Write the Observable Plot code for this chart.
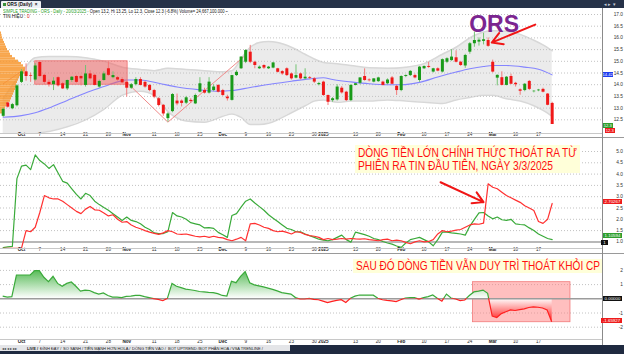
<!DOCTYPE html>
<html><head><meta charset="utf-8">
<script src="https://cdn.jsdelivr.net/npm/d3@7"></script>
<script src="https://cdn.jsdelivr.net/npm/@observablehq/plot@0.6"></script>
<style>
html,body{margin:0;padding:0;background:#fff;}
#root{position:relative;width:624px;height:354px;overflow:hidden;background:#fff;font-family:"Liberation Sans",Arial,sans-serif;}
.a{position:absolute;white-space:nowrap;}
</style></head><body><div id="root"></div>
<script>
// ---------------- DATA ----------------
// trading-day index 0 = 25/09/2024 ... 120 = 20/03/2025
const tickDays   = [4,8,13,18,23,27,33,38,43,48,53,58,63,68,70,77,82,87,92,97,102,107,112,117];
const tickLabels = ["Oct","7","14","21","28","Nov","11","18","25","Dec","9","16","23","30","2025","13","20","Feb","10","17","24","Mar","10","17"];
const monthLabels = ["Oct","Nov","Dec","2025","Feb","Mar"];

const openP  = [12.65,13.22,12.97,13.1,14.1,14.55,14.38,14.2,14.95,14.4,14.1,14.0,14.3,14.04,13.82,14.18,14.35,14.35,13.97,14.46,14.4,13.9,14.18,14.68,14.3,14.3,14.22,14.1,13.85,14.0,14.22,14.1,13.97,13.75,13.4,13.12,12.55,12.85,13.3,13.3,13.21,13.33,13.18,13.68,13.75,13.64,13.75,13.97,13.75,13.47,13.33,14.39,14.68,14.96,15.39,14.96,14.68,14.82,14.68,14.71,14.68,14.56,14.68,14.46,14.28,14.46,14.25,14.3,14.25,14.0,14.11,13.54,13.32,13.35,13.85,13.68,13.32,13.97,14.06,14.35,14.2,14.11,14.13,14.11,14.04,14.29,13.93,13.75,14.35,14.39,14.39,14.18,14.68,14.78,14.54,14.68,14.54,14.96,15.03,15.15,14.96,14.8,15.39,15.75,15.82,15.85,15.89,14.96,14.28,14.3,13.97,14.35,14.06,13.78,13.75,14.14,13.7,13.74,13.8,13.6,13.2];
const highP  = [13.0,13.25,13.2,14.0,14.65,14.89,14.5,14.9,14.97,14.45,14.2,14.3,14.35,14.1,14.2,14.35,14.4,14.4,14.82,14.6,14.45,14.2,14.55,14.96,14.55,14.35,14.3,14.15,14.05,14.3,14.3,14.15,14.0,13.8,13.45,13.15,12.8,13.62,13.6,13.35,13.5,13.4,13.6,14.3,13.85,14.3,14.0,14.0,13.8,13.55,14.4,14.6,15.2,15.5,15.68,15.0,14.8,14.85,14.78,14.95,14.7,14.6,14.72,14.5,14.85,14.5,14.68,14.35,14.3,14.1,14.15,13.56,13.45,14.0,13.92,13.72,14.0,14.05,14.3,14.68,14.25,14.25,14.32,14.15,14.25,14.35,13.97,14.38,14.42,14.6,14.45,14.78,14.8,14.96,14.7,14.72,15.1,15.15,15.5,15.45,15.0,15.3,15.8,16.25,16.0,16.2,16.0,15.05,14.42,14.55,14.35,14.45,14.1,13.82,14.05,14.18,13.75,13.8,13.85,13.62,13.25];
const lowP   = [12.6,13.0,12.93,13.05,14.05,14.15,14.1,14.15,14.3,14.0,13.9,13.75,13.9,13.8,13.75,14.1,14.05,13.95,13.9,14.2,13.95,13.85,14.15,14.35,14.25,14.15,14.05,13.47,13.8,13.95,13.95,13.85,13.7,13.4,13.05,12.65,12.4,12.8,13.1,13.05,13.15,13.2,13.15,13.65,13.6,13.6,13.7,13.65,13.5,13.3,13.3,14.35,14.65,14.9,14.9,14.68,14.65,14.65,14.65,14.68,14.5,14.4,14.35,14.2,14.25,14.2,14.2,14.22,14.05,13.95,13.5,13.11,13.25,13.3,13.6,13.28,13.28,13.95,14.0,14.15,14.12,14.08,14.1,13.95,14.0,14.0,13.54,13.7,14.3,14.35,14.25,14.1,14.65,14.7,14.5,14.55,14.5,14.9,15.0,14.93,14.78,14.7,15.3,15.6,15.65,15.7,15.6,14.5,13.95,13.95,13.95,14.0,13.9,13.55,13.7,13.75,13.65,13.7,13.65,13.1,12.3];
const closeP = [12.95,13.04,13.15,13.95,14.55,14.35,14.35,14.8,14.35,14.1,14.0,14.15,13.95,13.82,14.18,14.32,14.1,14.25,14.46,14.25,13.97,14.14,14.46,14.4,14.39,14.2,14.08,13.85,14.0,14.22,13.97,13.9,13.75,13.47,13.11,12.75,12.75,13.58,13.18,13.2,13.44,13.28,13.54,14.04,13.64,14.11,13.9,13.68,13.54,13.4,14.39,14.53,15.18,15.46,14.96,14.82,14.75,14.71,14.75,14.93,14.53,14.46,14.39,14.25,14.39,14.25,14.32,14.27,14.11,14.05,13.54,13.25,13.4,13.9,13.65,13.32,13.97,14.04,14.29,14.18,14.17,14.25,14.29,13.97,14.2,14.02,13.75,14.35,14.39,14.57,14.29,14.75,14.78,14.74,14.68,14.58,15.07,15.11,15.18,14.96,14.82,15.25,15.75,15.89,15.9,15.92,15.64,14.54,14.4,13.97,14.32,14.02,14.0,13.72,14.02,13.8,13.72,13.77,13.68,13.12,12.3];

const bandDays  = [0,4,7,10,14,18,22,26,30,33,36,40,44,48,50,52,54,56,58,60,63,66,68,70,73,76,80,84,88,92,96,99,102,105,107,110,113,116,118,120];
const bandUpper = [13.4,14.5,15.15,15.2,15.2,15.15,15.0,14.75,14.65,14.6,14.7,14.65,14.6,14.55,14.6,15.1,15.6,15.8,15.85,15.8,15.6,15.3,15.1,14.95,14.9,14.82,14.72,14.7,14.75,14.9,15.3,15.6,16.0,16.25,16.3,16.28,16.15,15.9,15.7,15.45];
const bandLower = [11.8,11.6,11.9,12.0,12.2,12.5,12.95,13.55,13.72,13.55,12.85,12.45,12.4,12.65,12.75,12.6,12.3,12.3,12.35,12.5,12.8,13.1,13.3,13.35,13.25,13.3,13.3,13.35,13.3,13.25,13.2,13.35,13.45,13.55,13.55,13.4,13.3,13.1,12.9,12.65];
const midDays   = [0,4,7,10,14,18,22,25,27,30,34,38,43,47,50,54,59,63,67,70,72,76,80,84,87,91,95,99,102,105,107,110,114,117,120];
const midValues = [12.61,12.68,12.8,13.0,13.33,13.65,13.92,14.12,14.2,14.2,14.06,13.9,13.78,13.72,13.75,13.88,14.04,14.15,14.25,14.3,14.22,14.12,14.04,14.0,14.0,14.1,14.33,14.54,14.68,14.78,14.82,14.82,14.75,14.66,14.42];

// volume profile (price level, relative volume)
const profilePrices  = [16.2,16.1,16.0,15.9,15.8,15.7,15.6,15.5,15.4,15.3,15.2,15.1,15.0,14.9,14.8,14.7,14.6,14.5,14.4,14.3,14.2,14.1,14.0,13.9,13.8,13.7,13.6,13.5,13.4,13.3,13.2,13.1,13.0,12.9,12.8];
const profileVolumes = [1,1.5,2,3,4,5,6,7,9,10,12,15,18,21,23,25,25,24,21,19,18,17,16,16,15,14,13,12,11,10,8,6,5,3,2];

// trend lines drawn on the price pane
const trendIds    = ["a","a","b","b","b"];
const trendDays   = [0,4.5,27,36,52.5];
const trendPrices = [14.04,14.64,14.1,12.4,15.18];

// highlighted zones
const priceZone = {d1:7, d2:27.2, p1:14.0, p2:15.0};
const oscZone   = {d1:102.7, d2:124, v1:-1.65, v2:1.17};

// middle pane: two money-flow lines
const greenFlow = [0.75,0.78,0.8,3.8,4.35,4.4,4.2,4.85,4.6,4.45,4.25,4.42,4.05,3.68,3.6,3.35,3.1,2.9,3.15,3.05,2.8,2.65,2.52,2.4,2.25,2.1,1.95,2.1,1.95,1.9,1.8,1.65,1.55,1.4,1.37,1.37,1.45,2.3,2.15,2.1,2.0,1.85,1.8,1.75,1.62,1.63,1.6,1.42,1.32,1.2,2.17,2.25,2.54,2.8,2.9,2.72,2.56,2.4,2.2,2.05,1.9,1.75,1.6,1.55,1.45,1.45,1.35,1.27,1.2,1.12,1.08,1.05,1.1,1.2,1.3,1.1,0.99,1.43,1.38,1.32,1.25,1.15,1.1,1.02,0.95,0.9,0.82,0.76,0.95,1.1,1.15,1.2,1.1,1.0,0.83,1.1,1.43,1.43,1.4,1.38,1.35,1.3,1.7,2.0,2.28,2.3,2.15,2.02,2.1,1.98,1.95,2.0,1.8,1.77,1.75,1.62,1.5,1.35,1.25,1.15,1.1];
const redFlow   = [0.72,0.72,0.72,0.72,0.72,1.5,1.45,1.65,2.3,3.05,2.95,2.9,2.9,2.8,2.65,2.5,2.35,2.25,2.45,2.57,2.42,2.4,2.28,2.15,2.2,2.0,1.87,1.9,1.75,1.65,1.58,1.5,1.43,1.38,1.33,1.4,1.5,1.45,1.35,1.33,1.35,1.3,1.25,1.22,1.25,1.2,1.25,1.2,1.18,1.1,1.05,1.12,1.2,1.05,1.8,1.82,1.75,1.65,1.6,1.5,1.45,1.48,1.42,1.35,1.45,1.42,1.33,1.28,1.25,1.2,1.1,1.15,1.1,1.12,1.15,1.12,1.15,1.13,1.12,1.14,1.1,1.08,1.05,1.1,1.12,1.05,1.08,1.05,0.98,0.92,1.0,1.05,1.0,1.02,1.1,1.35,1.5,1.45,1.48,1.52,1.55,1.65,1.75,1.8,1.78,1.83,3.57,3.42,3.35,3.2,3.05,2.95,2.85,2.75,2.6,2.5,2.39,1.9,1.82,2.0,2.7];

// bottom pane oscillator
const oscValues = [0.15,0.08,0.12,1.64,1.64,1.64,1.64,1.95,1.95,1.48,1.17,1.55,1.05,0.85,1.05,1.15,0.85,0.5,0.58,0.55,0.4,0.3,0.38,0.2,0.08,0.08,0.05,0.14,0.15,0.2,0.2,0.12,0.05,-0.02,-0.08,-0.17,0.0,1.05,0.85,0.75,0.65,0.6,0.55,0.48,0.45,0.42,0.4,0.33,0.2,0.16,1.2,1.1,1.55,1.88,1.1,0.95,0.88,0.8,0.72,0.63,0.52,0.4,0.35,0.3,0.05,-0.05,-0.05,0.0,-0.08,-0.1,-0.2,-0.3,-0.22,-0.15,-0.1,-0.3,0.0,0.15,0.23,0.23,0.23,0.22,0.0,-0.1,-0.15,-0.18,-0.23,-0.1,0.02,0.05,0.05,-0.05,0.05,0.12,0.23,0.0,-0.2,0.3,0.02,-0.05,-0.16,-0.12,0.2,0.45,0.5,0.58,0.35,-1.25,-1.35,-1.08,-0.95,-0.82,-0.86,-0.8,-0.74,-0.65,-0.6,-0.63,-0.68,-0.82,-1.65];

const priceTicks = [12.5,13.0,13.5,14.0,14.5,15.0,15.5,16.0,16.5,17.0];
const flowTicks  = [1.0,1.5,2.0,2.5,3.0,3.5,4.0,4.5,5.0];
const oscTicks   = [2,1,-1,-2];

// annotations (in data units)
const orsArrow  = {d1:116.3, p1:16.57, d2:106.8, p2:15.8};
const orsLabel  = {d:107.3, p:16.55, text:"ORS"};
const flowArrow = {d1:95.6, v1:3.64, d2:105.0, v2:2.76};

// ---------------- LAYOUT ----------------
const W = 624, PLOT_W = 602, MR = W - PLOT_W;
const X_DOMAIN = [-0.59, 131.0];
const PX_PER_DAY = PLOT_W / (X_DOMAIN[1] - X_DOMAIN[0]);
const FONT = "Liberation Sans, Arial, sans-serif";
const root = document.getElementById("root");

function el(style, html) {
  const d = document.createElement("div");
  d.className = "a"; d.style.cssText = style; if (html != null) d.innerHTML = html;
  root.appendChild(d); return d;
}
function fit(node, w) {
  const r = node.getBoundingClientRect().width;
  if (r > 0) { node.style.transformOrigin = "0 50%"; node.style.transform = `scaleX(${w / r})`; }
}
function dateMarks(dy) {
  const idx = tickDays.map((d, k) => k);
  const isMonth = k => monthLabels.includes(tickLabels[k]);
  return [
    Plot.text(idx.filter(isMonth), {x: k => tickDays[k], text: k => tickLabels[k], frameAnchor: "bottom", dy, fontSize: 4.6, fontWeight: "bold", fill: "#222"}),
    Plot.text(idx.filter(k => !isMonth(k)), {x: k => tickDays[k], text: k => tickLabels[k], frameAnchor: "bottom", dy, fontSize: 4.6, fill: "#333"})
  ];
}
function pane(top, plotH, yDomain, marks, dy) {
  const svg = Plot.plot({
    width: W, height: plotH + 7, marginTop: 0, marginBottom: 7, marginLeft: 0, marginRight: MR,
    x: {domain: X_DOMAIN, axis: null},
    y: {domain: yDomain, axis: null},
    color: {type: "identity"},
    style: {background: "transparent", fontFamily: FONT, overflow: "visible"},
    marks: [...marks, ...dateMarks(dy)]
  });
  svg.style.position = "absolute"; svg.style.left = "0px"; svg.style.top = top + "px";
  root.appendChild(svg);
  return svg;
}
function rightLabels(ticks, fmt) {
  return Plot.text(ticks, {y: d => d, text: fmt, frameAnchor: "right", dx: 20.5, textAnchor: "end", fontSize: 4.8, fill: "#333"});
}

// ---------------- PANE 1 : price ----------------
const candles = openP.map((o, i) => ({i, o, h: highP[i], l: lowP[i], c: closeP[i]}));
const band = bandDays.map((d, k) => ({i: d, up: bandUpper[k], lo: bandLower[k]}));
const mids = midDays.map((d, k) => ({i: d, v: midValues[k]}));
const prof = profilePrices.map((p, k) => ({p, v: profileVolumes[k]}));
const trend = trendDays.map((d, k) => ({z: trendIds[k], i: d, p: trendPrices[k]}));
const isUp = d => d.c >= d.o;

const p1 = pane(8, 125, [11.915, 17.256], [
  Plot.areaY(band, {x: "i", y1: "lo", y2: "up", fill: "#ebebeb", curve: "monotone-x", clip: true}),
  Plot.line(band, {x: "i", y: "up", stroke: "#d8d8d8", curve: "monotone-x", clip: true}),
  Plot.line(band, {x: "i", y: "lo", stroke: "#d8d8d8", curve: "monotone-x", clip: true}),
  Plot.ruleY(priceTicks, {y: d => d, stroke: "#c2c2c2", strokeDasharray: "1,2"}),
  Plot.line(mids, {x: "i", y: "v", stroke: "#8585ff", strokeWidth: 1.1, curve: "monotone-x", clip: true}),
  Plot.rect([priceZone], {x1: "d1", x2: "d2", y1: "p1", y2: "p2", fill: "#f25c5c", fillOpacity: 0.5, stroke: "#ee7070", strokeWidth: 0.8}),
  Plot.line(trend, {x: "i", y: "p", z: "z", stroke: "#f08a8a", strokeWidth: 1, clip: true}),
  Plot.rect(prof, {x1: () => X_DOMAIN[0], x2: d => X_DOMAIN[0] + d.v / PX_PER_DAY, y1: d => d.p - 0.05, y2: d => d.p + 0.05, fill: "#f7962e", fillOpacity: 0.85}),
  Plot.ruleX(candles, {x: "i", y1: "l", y2: "h", stroke: d => isUp(d) ? "#74c474" : "#f27a7a", strokeWidth: 1, clip: true}),
  Plot.ruleX(candles, {x: "i", y1: "o", y2: "c", stroke: d => isUp(d) ? "#199a19" : "#f01818", strokeWidth: 3, clip: true}),
  Plot.text([orsLabel], {x: "d", y: "p", text: "text", fontSize: 23, fontWeight: "bold", fill: "#7b2590"}),
  Plot.arrow([orsArrow], {x1: "d1", y1: "p1", x2: "d2", y2: "p2", stroke: "#f01515", strokeWidth: 2, headLength: 9}),
  rightLabels(priceTicks, d => d.toFixed(1))
], 2);

// ---------------- PANE 2 : money flow ----------------
const flow = greenFlow.map((g, i) => ({i, g, r: redFlow[i]}));
const p2 = pane(138, 110, [0.708, 5.575], [
  Plot.ruleY(flowTicks.filter(t => t > 1), {y: d => d, stroke: "#c2c2c2", strokeDasharray: "1,2"}),
  Plot.ruleY([1], {stroke: "#a0a0a0", strokeWidth: 1.5}),
  Plot.line(flow, {x: "i", y: "g", stroke: "#3aaa3a", strokeWidth: 1.2, clip: true}),
  Plot.line(flow, {x: "i", y: "r", stroke: "#ff3030", strokeWidth: 1.2, clip: true}),
  Plot.arrow([flowArrow], {x1: "d1", y1: "v1", x2: "d2", y2: "v2", stroke: "#f01515", strokeWidth: 2, headLength: 9}),
  rightLabels(flowTicks, d => d.toFixed(1))
], 2.3);

// ---------------- PANE 3 : oscillator ----------------
const osc = oscValues.map((v, i) => ({i, v}));
function oscArea(index, scales, values, dim) {
  const {x, y} = scales, y0 = y(0);
  const g = d3.create("svg:g"), defs = g.append("defs");
  const gp = defs.append("linearGradient").attr("id", "oscPos").attr("gradientUnits", "userSpaceOnUse")
    .attr("x1", 0).attr("x2", 0).attr("y1", y(2)).attr("y2", y0);
  gp.append("stop").attr("offset", 0).attr("stop-color", "#55ba55");
  gp.append("stop").attr("offset", 1).attr("stop-color", "#ffffff");
  const gn = defs.append("linearGradient").attr("id", "oscNeg").attr("gradientUnits", "userSpaceOnUse")
    .attr("x1", 0).attr("x2", 0).attr("y1", y0).attr("y2", y(-1.7));
  gn.append("stop").attr("offset", 0).attr("stop-color", "#ffffff");
  gn.append("stop").attr("offset", 1).attr("stop-color", "#ff1010");
  defs.append("clipPath").attr("id", "cPosA").append("rect").attr("x", 0).attr("y", 0).attr("width", dim.width).attr("height", y0);
  defs.append("clipPath").attr("id", "cNegA").append("rect").attr("x", 0).attr("y", y0).attr("width", dim.width).attr("height", dim.height - y0);
  const area = d3.area().x(d => x(d.i)).y0(y0).y1(d => y(d.v));
  g.append("path").attr("d", area(osc)).attr("fill", "url(#oscPos)").attr("clip-path", "url(#cPosA)");
  g.append("path").attr("d", area(osc)).attr("fill", "url(#oscNeg)").attr("clip-path", "url(#cNegA)");
  return g.node();
}
function oscLine(index, scales, values, dim) {
  const {x, y} = scales, y0 = y(0);
  const g = d3.create("svg:g"), defs = g.append("defs");
  defs.append("clipPath").attr("id", "cPosL").append("rect").attr("x", 0).attr("y", 0).attr("width", dim.width).attr("height", y0);
  defs.append("clipPath").attr("id", "cNegL").append("rect").attr("x", 0).attr("y", y0).attr("width", dim.width).attr("height", dim.height - y0);
  const line = d3.line().x(d => x(d.i)).y(d => y(d.v));
  g.append("path").attr("d", line(osc)).attr("fill", "none").attr("stroke", "#3aaa3a").attr("stroke-width", 1.2).attr("clip-path", "url(#cPosL)");
  g.append("path").attr("d", line(osc)).attr("fill", "none").attr("stroke", "#ff2020").attr("stroke-width", 1.2).attr("clip-path", "url(#cNegL)");
  return g.node();
}
const p3 = pane(253, 86, [-2.866, 3.19], [
  Plot.ruleY(oscTicks, {y: d => d, stroke: "#c2c2c2", strokeDasharray: "1,2"}),
  Plot.rect([oscZone], {x1: "d1", x2: "d2", y1: "v1", y2: "v2", fill: "#ff8080", fillOpacity: 0.5, stroke: "#f27a7a", strokeWidth: 0.8}),
  oscArea,
  Plot.ruleY([0], {stroke: "#9c9c9c", strokeWidth: 1.5}),
  oscLine,
  rightLabels(oscTicks, d => String(d))
], 3);

// ---------------- chrome ----------------
el("left:0;top:132.5px;width:602px;height:1px;background:#c8c8c8");
el("left:0;top:137.3px;width:624px;height:1px;background:#9a9a9a");
el("left:0;top:247.8px;width:602px;height:1px;background:#c8c8c8");
el("left:0;top:252.6px;width:624px;height:1px;background:#9a9a9a");
el("left:0;top:339px;width:602px;height:1px;background:#c8c8c8");
el("left:602px;top:8px;width:1px;height:337px;background:#8a8a8a");

// top bar
el("left:0;top:0;width:624px;height:8px;background:#263248");
el("left:1px;top:1px;width:40px;height:7px;background:#eef0f4;border-radius:1px 1px 0 0");
el("left:7px;top:1.8px;font-size:4.6px;color:#111;font-weight:bold", "ORS (Daily) &nbsp;×");
el("left:2.5px;top:2.5px;width:3px;height:3px;background:#3a8f3a");
el("left:604px;top:1.5px;font-size:4.5px;color:#c8cdd8", "◂ ▸ ▾");

// header texts
const hdr = el("left:3px;top:8.6px;font-size:4.7px;line-height:5px;color:#111",
  '<span style="color:#1ea01e">SIMPLE TRADING - ORS - Daily - 20/03/2025 -</span> Open 13.2, Hi 13.25, Lo 12.3, Close 12.3 (-6.8%) Volume= 24,667,100.000 ~');
fit(hdr, 225);
el("left:3px;top:14.3px;font-size:4.7px;line-height:5px;color:#111", 'TIN HIỆU : <span style="color:#e01010">0</span>');

// value tags on the right axis
function tag(text, yAbs, bg, left, width, fs) {
  el(`left:${left}px;top:${(yAbs - 2.7).toFixed(2)}px;width:${width}px;height:5.4px;background:${bg};color:#fff;font-size:${fs || 4.4}px;line-height:5.4px;text-align:center;overflow:hidden`, text);
}
const y1s = p1.scale("y"), y2s = p2.scale("y"), y3s = p3.scale("y");
tag("14.42", 8 + y1s.apply(14.42), "#1c3cf0", 602.5, 10, 4.1);
tag("12.3", 8 + y1s.apply(12.3) + 1.8, "#2e9e2e", 603, 9.5, 4.1);
tag("12.3", 8 + y1s.apply(12.3) + 6.6, "#ee1c1c", 605, 9.5, 4.1);
tag("2.70267", 138 + y2s.apply(2.70) - 1.2, "#ee1c1c", 603, 19);
tag("1.10594", 138 + y2s.apply(1.1) - 3.4, "#2e9e2e", 603, 19);
tag("1", 138 + y2s.apply(1.0) + 1, "#111", 601, 7);
tag("0.00000", 253 + y3s.apply(0), "#111", 603, 19);
tag("-1.65927", 253 + y3s.apply(-1.65) - 1, "#ee1c1c", 601, 21);

// yellow annotations
const NARROW = '"Liberation Sans Narrow","Arial Narrow","Liberation Sans",Arial,sans-serif';
el("left:355px;top:144.5px;width:225px;height:28.5px;background:#ffffd9");
const t1 = el(`left:358px;top:147px;font-family:${NARROW};font-size:12.5px;line-height:13px;color:#ff1010`, "DÒNG TIỀN LỚN CHÍNH THỨC THOÁT RA TỪ");
const t2 = el(`left:358px;top:160px;font-family:${NARROW};font-size:12.5px;line-height:13px;color:#ff1010`, "PHIÊN RA TIN ĐẦU TIÊN, NGÀY 3/3/2025");
fit(t1, 219); fit(t2, 195);
el("left:353px;top:259px;width:249px;height:14px;background:#ffffd9");
const t3 = el(`left:356px;top:259.5px;font-family:${NARROW};font-size:12.5px;line-height:13px;color:#ff1010`, "SAU ĐÓ DÒNG TIỀN VẪN DUY TRÌ THOÁT KHỎI CP");
fit(t3, 244);

// bottom tab bar
el("left:0;top:344.5px;width:624px;height:9.5px;background:#1f2a40");
el("left:0;top:345px;width:290px;height:6px;background:#e4e5e8");
el("left:2px;top:345.6px;font-size:4px;line-height:5px;color:#333", "◂◂ ◂ ▸ ▸▸");
const tabs = [["LIVE",27,true],["ĐỈNH ĐÁY",40],["SO SÁNH",63],["TIỀN MẠNH HƠN HOLA",84],["DÒNG TIỀN VÀO",132],["BOT UPTREND",168],["BOT PHÂN HOÁ",199],["VSA TRENLINE",232]];
tabs.forEach(([t, x, b]) => el(`left:${x}px;top:345.6px;font-size:4px;line-height:5px;color:#222;${b ? "font-weight:bold" : ""}`, t + " /"));
</script></body></html>
